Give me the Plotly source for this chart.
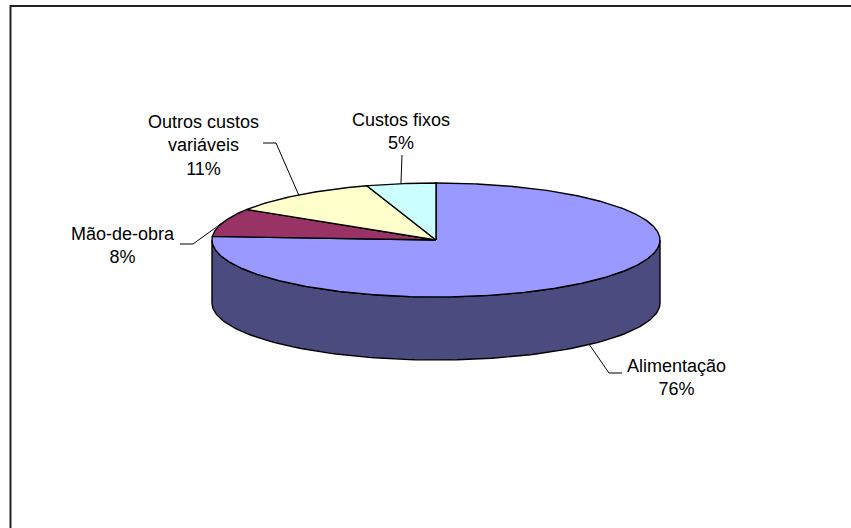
import numpy as np
import plotly.graph_objects as go

# ---- data ----
categories = ["Alimentação", "Mão-de-obra", "Outros custos<br>variáveis", "Custos fixos"]
values = [76, 8, 11, 5]
top_colors = ["#9999FF", "#993366", "#FFFFCC", "#CCFFFF"]
side_colors = ["#4B4B7F", "#4D1A33", "#80806A", "#6A8080"]

# ---- geometry (pixel space) ----
W, H = 851, 528
cx, cy = 436, 240
rx, ry = 224, 57
depth = 63

# label placement (centre of text block) and leader elbow
label_pos = [(676, 377), (123, 245), (203, 145), (401, 131)]
elbows = [[(609, 373), (622, 373)],
          [(193, 244), (180, 244)],
          [(276, 143), (263, 143)],
          [(402, 155)]]


def pt(theta_deg, dz=0.0):
    t = np.radians(theta_deg)
    return cx + rx * np.sin(t), cy - ry * np.cos(t) + dz


total = float(sum(values))
bounds = np.concatenate([[0], np.cumsum(values)]) / total * 360.0

fig = go.Figure()

# chart frame (only top and left edges fall inside the picture)
fig.add_trace(go.Scatter(x=[W + 20, 10.5, 10.5], y=[6, 6, H + 20], mode="lines",
                         line=dict(color="#222222", width=2),
                         hoverinfo="skip", showlegend=False))

# side walls (front half: 90..270 deg clockwise from top)
for i in range(len(values)):
    a, b = max(bounds[i], 90.0), min(bounds[i + 1], 270.0)
    if a >= b:
        continue
    th = np.linspace(a, b, 120)
    xt, yt = pt(th)
    xb, yb = pt(th[::-1], depth)
    xs = np.concatenate([xt, xb, xt[:1]])
    ys = np.concatenate([yt, yb, yt[:1]])
    fig.add_trace(go.Scatter(x=xs, y=ys, mode="lines", fill="toself",
                             fillcolor=side_colors[i],
                             line=dict(color="black", width=1.4),
                             hoverinfo="skip", showlegend=False))

# top faces
for i in range(len(values)):
    n = max(int((bounds[i + 1] - bounds[i]) * 2), 8)
    th = np.linspace(bounds[i], bounds[i + 1], n)
    xt, yt = pt(th)
    xs = np.concatenate([[cx], xt, [cx]])
    ys = np.concatenate([[cy], yt, [cy]])
    fig.add_trace(go.Scatter(x=xs, y=ys, mode="lines", fill="toself",
                             fillcolor=top_colors[i],
                             line=dict(color="black", width=1.4),
                             hoverinfo="skip", showlegend=False))

# leader lines and labels
for i in range(len(values)):
    mid = (bounds[i] + bounds[i + 1]) / 2
    dz = depth if 90 < mid < 270 else 0
    sx, sy = pt(mid, dz)
    lx = [sx] + [p[0] for p in elbows[i]]
    ly = [sy] + [p[1] for p in elbows[i]]
    fig.add_trace(go.Scatter(x=lx, y=ly, mode="lines",
                             line=dict(color="black", width=1),
                             hoverinfo="skip", showlegend=False))
    pct = round(values[i] / total * 100)
    fig.add_annotation(x=label_pos[i][0], y=label_pos[i][1],
                       text=f"{categories[i]}<br>{pct}%",
                       showarrow=False, xref="x", yref="y",
                       font=dict(family="Liberation Sans, Arial", size=18, color="black"),
                       align="center", xanchor="center", yanchor="middle")

fig.update_layout(
    width=W, height=H,
    margin=dict(l=0, r=0, t=0, b=0),
    paper_bgcolor="white", plot_bgcolor="white",
    xaxis=dict(range=[0, W], visible=False, fixedrange=True),
    yaxis=dict(range=[H, 0], visible=False, fixedrange=True),
)

fig.write_html("out.html", config={"displayModeBar": False})
